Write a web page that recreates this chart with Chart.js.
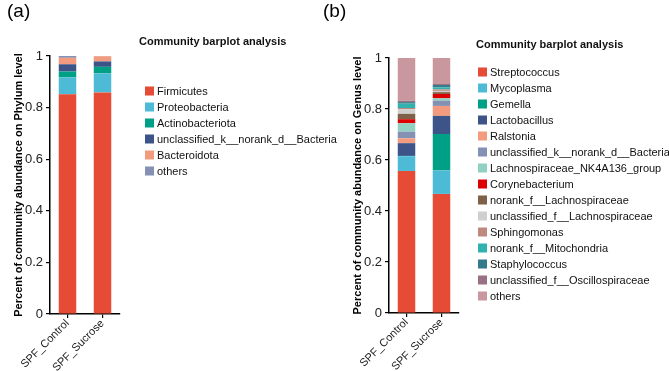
<!DOCTYPE html>
<html>
<head>
<meta charset="utf-8">
<script src="https://cdn.jsdelivr.net/npm/chart.js@4.4.1/dist/chart.umd.min.js"></script>
<style>
  html, body { margin: 0; padding: 0; background: #fff; }
  #wrap { position: relative; width: 669px; height: 371px; overflow: hidden; }
  canvas { position: absolute; top: 0; }
  #chartA { left: 0; }
  #chartB { left: 315px; }
</style>
</head>
<body>
<div id="wrap">
  <canvas id="chartA" width="669" height="371"></canvas>
  <canvas id="chartB" width="354" height="371"></canvas>
</div>
<script>
const samples = ['SPF_Control', 'SPF_Sucrose'];
const yTicks = ['0', '0.2', '0.4', '0.6', '0.8', '1'];

const phylumNames = ['Firmicutes', 'Proteobacteria', 'Actinobacteriota',
  'unclassified_k__norank_d__Bacteria', 'Bacteroidota', 'others'];
const phylumControl = [0.852, 0.065, 0.023, 0.028, 0.025, 0.007];
const phylumSucrose = [0.859, 0.074, 0.025, 0.021, 0.020, 0.001];
const phylumColors = ['#E64B35', '#4DBBD5', '#00A087', '#3C5488', '#F39B7F', '#8491B4'];

const genusNames = ['Streptococcus', 'Mycoplasma', 'Gemella', 'Lactobacillus', 'Ralstonia',
  'unclassified_k__norank_d__Bacteria', 'Lachnospiraceae_NK4A136_group', 'Corynebacterium',
  'norank_f__Lachnospiraceae', 'unclassified_f__Lachnospiraceae', 'Sphingomonas',
  'norank_f__Mitochondria', 'Staphylococcus', 'unclassified_f__Oscillospiraceae', 'others'];
const genusControl = [0.557, 0.058, 0.001, 0.050, 0.019, 0.026, 0.033, 0.016, 0.021, 0.018, 0.005, 0.017, 0.006, 0.006, 0.167];
const genusSucrose = [0.467, 0.092, 0.143, 0.071, 0.039, 0.021, 0.009, 0.017, 0.007, 0.005, 0.006, 0.008, 0.009, 0.004, 0.102];
const genusColors = ['#E64B35', '#4DBBD5', '#00A087', '#3C5488', '#F39B7F', '#8491B4', '#91D1C2',
  '#DC0000', '#7E6148', '#CFCFCF', '#BE8A80', '#31B2AE', '#337A8A', '#9A7085', '#C9989F'];

const FONT = 'Arial, "Liberation Sans", sans-serif';

// legend + panel letter drawn on the canvas
const sideLegend = {
  id: 'sideLegend',
  afterDraw(chart, args, o) {
    const ctx = chart.ctx;
    ctx.save();
    ctx.fillStyle = '#000';
    ctx.textBaseline = 'alphabetic';
    ctx.textAlign = 'left';
    ctx.font = '19px ' + FONT;
    ctx.fillText(o.letter, o.letterX, 17);

    ctx.textBaseline = 'middle';
    ctx.font = 'bold 11px ' + FONT;
    ctx.fillStyle = '#111';
    ctx.fillText(o.title, o.titleX, o.titleY);

    ctx.font = '11px ' + FONT;
    chart.data.datasets.forEach((ds, i) => {
      const y = o.y0 + i * o.step;
      ctx.fillStyle = ds.backgroundColor;
      ctx.fillRect(o.boxX, y - 4.5, 9, 9);
      ctx.fillStyle = '#111';
      ctx.fillText(ds.label, o.boxX + 12, y + 0.5);
    });
    ctx.restore();
  }
};

function makeChart(id, names, ctrl, sucr, colors, yTitle, pad, legendOpts) {
  const datasets = names.map((n, i) => ({
    label: n,
    data: [ctrl[i], sucr[i]],
    backgroundColor: colors[i],
    borderWidth: 0,
    barPercentage: 0.5,
    categoryPercentage: 1.0
  }));
  return new Chart(document.getElementById(id), {
    type: 'bar',
    data: { labels: samples, datasets: datasets },
    plugins: [sideLegend],
    options: {
      responsive: false,
      animation: false,
      layout: { padding: pad },
      plugins: {
        legend: { display: false },
        tooltip: { enabled: false },
        sideLegend: legendOpts
      },
      scales: {
        x: {
          stacked: true,
          afterFit(s) { s.height = pad.xh; },
          border: { display: true, color: '#000', width: 1.5 },
          grid: { display: true, drawOnChartArea: false, drawTicks: true, tickLength: 4, color: '#000', lineWidth: 1.2, offset: false },
          ticks: { autoSkip: false, minRotation: 45, maxRotation: 45, padding: -1, color: '#222', font: { family: FONT, size: 11 } }
        },
        y: {
          stacked: true,
          min: 0,
          max: 1,
          afterFit(s) { s.width = pad.yw; },
          border: { display: true, color: '#000', width: 1.5 },
          grid: { display: true, drawOnChartArea: false, drawTicks: true, tickLength: 4, color: '#000', lineWidth: 1.2 },
          ticks: {
            stepSize: 0.2,
            padding: 3,
            color: '#222',
            font: { family: FONT, size: 13 },
            callback: (v, i) => yTicks[i]
          },
          title: {
            display: true,
            text: yTitle,
            color: '#000',
            font: { family: FONT, size: 11, weight: 'bold' },
            padding: { top: 4, bottom: 4 }
          }
        }
      }
    }
  });
}

makeChart('chartA', phylumNames, phylumControl, phylumSucrose, phylumColors,
  'Percent of community abundance on Phylum level',
  { left: 8, right: 549, top: 56, bottom: 0, yw: 42, xh: 57 },
  { letter: '(a)', letterX: 7, title: 'Community barplot analysis', titleX: 139, titleY: 42, boxX: 145, y0: 91, step: 16 });

makeChart('chartB', genusNames, genusControl, genusSucrose, genusColors,
  'Percent of community abundance on Genus level',
  { left: 32, right: 210, top: 58, bottom: 0, yw: 42, xh: 58 },
  { letter: '(b)', letterX: 8, title: 'Community barplot analysis', titleX: 161, titleY: 45, boxX: 163, y0: 72, step: 16 });
</script>
</body>
</html>
